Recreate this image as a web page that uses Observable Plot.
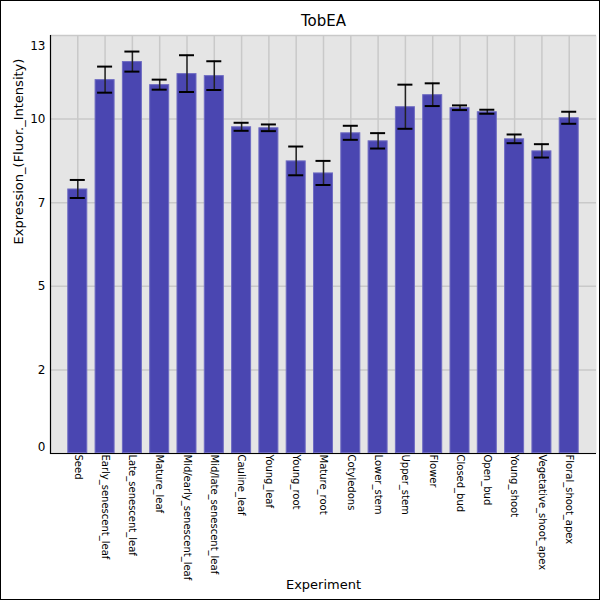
<!DOCTYPE html>
<html>
<head>
<meta charset="utf-8">
<script src="https://cdn.jsdelivr.net/npm/d3@7"></script>
<script src="https://cdn.jsdelivr.net/npm/@observablehq/plot@0.6"></script>
<style>
  body { margin: 0; background: white; }
  #chart svg { display: block; outline: 1px solid black; outline-offset: -1px; }
</style>
</head>
<body>
<div id="chart"></div>
<script>
const title = "TobEA";
const xTitle = "Experiment";
const yTitle = "Expression_(Fluor._Intensity)";
const categories = ["Seed","Early_senescent_leaf","Late_senescent_leaf","Mature_leaf","Mid/early_senescent_leaf","Mid/late_senescent_leaf","Cauline_leaf","Young_leaf","Young_root","Mature_root","Cotyledons","Lower_stem","Upper_stem","Flower","Closed_bud","Open_bud","Young_shoot","Vegetative_shoot_apex","Floral_shoot_apex"];
const means  = [7.91, 11.18, 11.72, 11.03, 11.36, 11.30, 9.77, 9.74, 8.75, 8.39, 9.59, 9.35, 10.37, 10.73, 10.34, 10.22, 9.41, 9.05, 10.04];
const errors = [0.27, 0.39, 0.30, 0.15, 0.55, 0.43, 0.12, 0.10, 0.43, 0.36, 0.21, 0.23, 0.66, 0.34, 0.07, 0.06, 0.13, 0.20, 0.18];
const yTicks = [0, 2.5, 5, 7.5, 10, 12.5];
const yTickLabels = ["0", "2", "5", "7", "10", "13"];

const data = categories.map((c, i) => ({category: c, mean: means[i], lo: means[i] - errors[i], hi: means[i] + errors[i]}));
const labelOf = v => yTickLabels[yTicks.indexOf(v)];

const chart = Plot.plot({
  width: 600,
  height: 600,
  marginLeft: 50,
  marginRight: 4,
  marginTop: 35,
  marginBottom: 147,
  style: {fontFamily: "DejaVu Sans", background: "white", color: "black"},
  x: {domain: categories, paddingInner: 0.267, paddingOuter: 0.633, round: false, label: null},
  y: {domain: [0, 12.5], label: null},
  marks: [
    Plot.frame({fill: "#e5e5e5", stroke: null}),
    Plot.gridY(yTicks, {stroke: "#c9c9c9", strokeOpacity: 1, strokeWidth: 1.5}),
    Plot.gridX(categories, {stroke: "#c9c9c9", strokeOpacity: 1, strokeWidth: 1.5}),
    Plot.barY(data, {x: "category", y: "mean", fill: "#4a46b1", stroke: "#6e6bc2", strokeWidth: 1, inset: 0.5}),
    Plot.ruleX(data, {x: "category", y1: "lo", y2: "hi", stroke: "#222", strokeWidth: 1.5}),
    Plot.tickY(data, {x: "category", y: "lo", stroke: "black", strokeWidth: 2, insetLeft: 2.5, insetRight: 2.5}),
    Plot.tickY(data, {x: "category", y: "hi", stroke: "black", strokeWidth: 2, insetLeft: 2.5, insetRight: 2.5}),
    Plot.axisX({tickRotate: 90, tickSize: 0, tickPadding: 1, fontSize: 10, label: null}),
    Plot.axisY(yTicks.slice(1, -1), {tickSize: 0, tickPadding: 5, fontSize: 12, tickFormat: labelOf, label: null}),
    Plot.text([yTicks[0]], {y: d => d, frameAnchor: "left", dx: -5, dy: -6, text: labelOf, textAnchor: "end", fontSize: 12}),
    Plot.text([yTicks[yTicks.length - 1]], {y: d => d, frameAnchor: "left", dx: -5, dy: 11, text: labelOf, textAnchor: "end", fontSize: 12}),
    Plot.ruleY([0], {stroke: "black", strokeWidth: 1.2}),
    Plot.frame({anchor: "left", stroke: "black", strokeWidth: 1.2}),
    Plot.text([xTitle], {frameAnchor: "bottom", dy: 131, lineAnchor: "middle", fontSize: 13}),
    Plot.text([yTitle], {frameAnchor: "left", dx: -32, rotate: -90, lineAnchor: "middle", fontSize: 13}),
    Plot.text([title], {frameAnchor: "top", dy: -14, lineAnchor: "middle", fontSize: 15})
  ]
});
document.getElementById("chart").append(chart);
</script>
</body>
</html>
